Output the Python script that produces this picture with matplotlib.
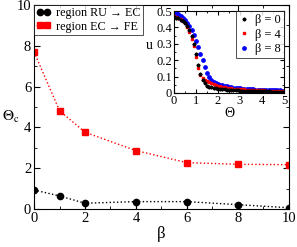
import matplotlib
matplotlib.use('Agg')
import matplotlib.pyplot as plt
from matplotlib.ticker import MultipleLocator

plt.rcParams['font.family'] = ['Liberation Serif', 'DejaVu Serif']
plt.rcParams['mathtext.fontset'] = 'stix'

# main panel: critical Theta vs beta
beta = [0, 1, 2, 4, 6, 8, 10]
ru_ec = [0.93, 0.64, 0.28, 0.36, 0.36, 0.21, 0.06]
ru_ec_err = [0.0, 0.0, 0.22, 0.36, 0.36, 0.21, 0.06]
ec_fe = [7.70, 4.82, 3.76, 2.86, 2.27, 2.19, 2.17]

# inset: u vs Theta
theta = [round(0.1 * i, 1) for i in range(51)]
u_b0 = [0.465, 0.46, 0.455, 0.447, 0.438, 0.425, 0.41, 0.385, 0.35, 0.30,
        0.24, 0.17, 0.115, 0.08, 0.058, 0.045, 0.038, 0.034, 0.031, 0.029,
        0.027, 0.025, 0.023, 0.022, 0.021, 0.020, 0.019, 0.018, 0.017, 0.016,
        0.015, 0.015, 0.014, 0.014, 0.013, 0.013, 0.012, 0.012, 0.011, 0.011,
        0.011, 0.010, 0.010, 0.010, 0.009, 0.009, 0.009, 0.009, 0.008, 0.008,
        0.008]
u_b4 = [0.47, 0.465, 0.46, 0.45, 0.44, 0.425, 0.405, 0.37, 0.33, 0.285,
        0.22, 0.155, 0.11, 0.09, 0.08, 0.075, 0.07, 0.063, 0.056, 0.05,
        0.045, 0.041, 0.038, 0.035, 0.033, 0.031, 0.029, 0.027, 0.026, 0.025,
        0.024, 0.023, 0.022, 0.021, 0.020, 0.019, 0.019, 0.018, 0.017, 0.017,
        0.016, 0.016, 0.015, 0.015, 0.014, 0.014, 0.013, 0.013, 0.013, 0.012,
        0.012]
u_b8 = [0.495, 0.49, 0.48, 0.47, 0.46, 0.445, 0.43, 0.41, 0.385, 0.355,
        0.32, 0.28, 0.24, 0.20, 0.16, 0.125, 0.10, 0.082, 0.07, 0.062,
        0.056, 0.051, 0.047, 0.043, 0.040, 0.037, 0.035, 0.033, 0.031, 0.029,
        0.028, 0.027, 0.026, 0.025, 0.024, 0.023, 0.022, 0.021, 0.021, 0.020,
        0.019, 0.019, 0.018, 0.018, 0.017, 0.017, 0.016, 0.016, 0.016, 0.015,
        0.015]

fig = plt.figure(figsize=(2.97, 2.47), dpi=100)
ax = fig.add_axes([0.1145, 0.154, 0.8585, 0.826])

ax.errorbar(beta, ru_ec, yerr=[ru_ec_err, [0] * len(beta)], color='black',
            ls='none', elinewidth=0.8, capsize=0)
h1, = ax.plot(beta, ru_ec, color='black', marker='o', ms=4.5, ls=':', lw=1,
              label='region RU → EC')
h2, = ax.plot(beta, ec_fe, color='red', marker='s', ms=4, ls=':', lw=1,
              label='region EC → FE')

ax.set_xlim(0, 10)
ax.set_ylim(0, 10)
ax.xaxis.set_major_locator(MultipleLocator(2))
ax.xaxis.set_minor_locator(MultipleLocator(1))
ax.yaxis.set_major_locator(MultipleLocator(2))
ax.yaxis.set_minor_locator(MultipleLocator(1))
ax.tick_params(which='both', direction='in', top=True, right=True,
               labelsize=10.5, pad=2)
ax.tick_params(which='major', length=4)
ax.tick_params(which='minor', length=2)
ax.set_xlabel('β', fontsize=12, labelpad=1)
ax.set_ylabel(r'$\Theta_\mathrm{c}$', fontsize=11, rotation=0, va='center')
ax.yaxis.set_label_coords(-0.09, 0.45)
leg = ax.legend(handles=[h1, h2], loc='upper left', fontsize=8.7, numpoints=2,
                frameon=True, fancybox=False, edgecolor='black',
                borderaxespad=0.0, handlelength=1.2, handletextpad=0.4,
                borderpad=0.2, labelspacing=0.1)
leg.get_frame().set_linewidth(0.6)

ins = fig.add_axes([0.586, 0.6235, 0.37, 0.3315])
hb8, = ins.plot(theta, u_b8, ls='none', marker='o', ms=2.4, color='blue', label='β = 8')
hb4, = ins.plot(theta, u_b4, ls='none', marker='s', ms=2.0, color='red', label='β = 4')
hb0, = ins.plot(theta, u_b0, ls='none', marker='P', ms=2.0, color='black', label='β = 0')
ins.set_xlim(0, 5)
ins.set_ylim(0, 0.5)
ins.xaxis.set_major_locator(MultipleLocator(1))
ins.xaxis.set_minor_locator(MultipleLocator(0.5))
ins.yaxis.set_major_locator(MultipleLocator(0.1))
ins.yaxis.set_minor_locator(MultipleLocator(0.05))
ins.tick_params(which='both', direction='in', top=True, right=True,
                labelsize=9, pad=1.5)
ins.tick_params(which='major', length=3)
ins.tick_params(which='minor', length=1.5)
ins.set_yticks([0, 0.1, 0.2, 0.3, 0.4, 0.5], ['0', '0.1', '0.2', '0.3', '0.4', '0.5'])
ins.set_xlabel('Θ', fontsize=10, labelpad=0)
ins.set_ylabel('u', fontsize=10, rotation=0, labelpad=5)
leg2 = ins.legend(handles=[hb0, hb4, hb8], loc='upper right', fontsize=9,
                  numpoints=1, frameon=True, fancybox=False, edgecolor='black',
                  borderaxespad=0.0, handlelength=0.8, handletextpad=0.5,
                  borderpad=0.25, labelspacing=0.2)
leg2.get_frame().set_linewidth(0.6)

fig.savefig('out.png', dpi=100)
